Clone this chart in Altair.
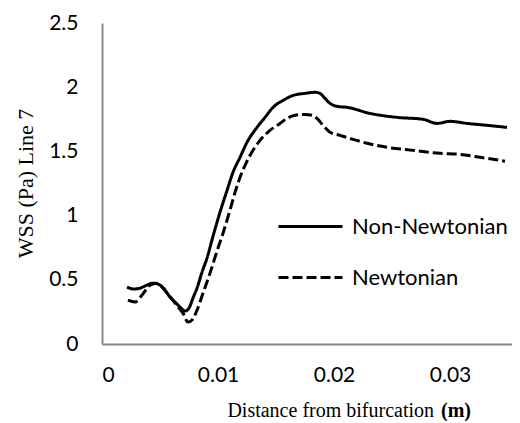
import altair as alt
import pandas as pd

series_names = ["Non-Newtonian", "Newtonian"]

nn_x = [0.00216, 0.00276, 0.00328, 0.00388, 0.0044, 0.005, 0.00543, 0.00586, 0.00638, 0.00672,
        0.00716, 0.0075, 0.00784, 0.00819, 0.00862, 0.00905, 0.00957, 0.01017, 0.01078, 0.01129,
        0.0119, 0.0125, 0.01336, 0.01405, 0.01474, 0.0156, 0.01647, 0.0175, 0.01836, 0.01879,
        0.01922, 0.01966, 0.02026, 0.02112, 0.0231, 0.02543, 0.02767, 0.02888, 0.03, 0.03147,
        0.0332, 0.03491]
nn_y = [0.443, 0.428, 0.435, 0.459, 0.474, 0.459, 0.42, 0.365, 0.319, 0.288,
        0.257, 0.28, 0.358, 0.435, 0.56, 0.669, 0.84, 1.026, 1.197, 1.337,
        1.454, 1.571, 1.687, 1.765, 1.843, 1.897, 1.936, 1.952, 1.96, 1.952,
        1.913, 1.874, 1.851, 1.843, 1.796, 1.765, 1.75, 1.718, 1.734, 1.718,
        1.703, 1.687]

n_x = [0.00224, 0.00284, 0.00345, 0.00414, 0.00474, 0.00526, 0.00569, 0.00612, 0.00655, 0.00698,
       0.00741, 0.00776, 0.00819, 0.00871, 0.00931, 0.00991, 0.01043, 0.01103, 0.01147, 0.0119,
       0.01241, 0.01302, 0.01362, 0.01448, 0.01534, 0.01595, 0.01664, 0.0175, 0.0181, 0.01853,
       0.01905, 0.01966, 0.02052, 0.02164, 0.02284, 0.02457, 0.02681, 0.02914, 0.03086, 0.03259,
       0.03371, 0.03474]
n_y = [0.342, 0.327, 0.381, 0.459, 0.474, 0.435, 0.389, 0.342, 0.288, 0.241,
       0.171, 0.187, 0.264, 0.397, 0.552, 0.723, 0.863, 1.042, 1.182, 1.299,
       1.407, 1.509, 1.586, 1.664, 1.718, 1.757, 1.781, 1.788, 1.781, 1.757,
       1.703, 1.649, 1.625, 1.594, 1.563, 1.532, 1.508, 1.485, 1.477, 1.454,
       1.439, 1.423]

x_ticks = [0, 0.01, 0.02, 0.03]
y_ticks = [0, 0.5, 1, 1.5, 2, 2.5]

df = pd.concat([
    pd.DataFrame({"x": nn_x, "y": nn_y, "series": series_names[0], "order": range(len(nn_x))}),
    pd.DataFrame({"x": n_x, "y": n_y, "series": series_names[1], "order": range(len(n_x))}),
])

lines = alt.Chart(df).mark_line(color="black", strokeWidth=3, interpolate="monotone").encode(
    x=alt.X("x:Q", scale=alt.Scale(domain=[0, 0.03534], nice=False, zero=False),
            axis=alt.Axis(values=x_ticks, title=None,
                          labelExpr="datum.value == 0 ? '0' : format(datum.value, '.2f')",
                          labelPadding=20)),
    y=alt.Y("y:Q", scale=alt.Scale(domain=[0, 2.5], nice=False),
            axis=alt.Axis(values=y_ticks, title="WSS (Pa) Line 7", labelPadding=24,
                          labelExpr="format(datum.value, '~g')",
                          titleFont="Liberation Serif", titleFontSize=22, titleFontWeight="normal",
                          titleX=-77, titleY=160, titleAngle=270, titleAlign="center",
                          titleBaseline="middle", titleColor="black")),
    strokeDash=alt.StrokeDash("series:N",
                              scale=alt.Scale(domain=series_names, range=[[1, 0], [10, 4]]),
                              legend=alt.Legend(title=None, orient="none", legendX=175, legendY=170,
                                                symbolType="stroke", symbolSize=4096,
                                                symbolStrokeWidth=3, symbolStrokeColor="black",
                                                labelFont="Lato", labelFontSize=22, labelColor="black",
                                                labelLimit=400, labelOffset=8, rowPadding=6,
                                                padding=0)),
    order="order:Q",
)

title_main = alt.Chart(pd.DataFrame({"t": ["Distance from bifurcation"]})).mark_text(
    font="Liberation Serif", fontSize=20, align="right", baseline="alphabetic", color="black"
).encode(text="t:N", x=alt.value(332), y=alt.value(394))

title_unit = alt.Chart(pd.DataFrame({"t": ["(m)"]})).mark_text(
    font="Liberation Serif", fontSize=20, fontWeight="bold", align="left", baseline="alphabetic",
    color="black"
).encode(text="t:N", x=alt.value(339), y=alt.value(394))

chart = alt.layer(lines, title_main, title_unit).properties(
    width=410, height=321,
    autosize=alt.AutoSizeParams(type="none"),
    padding={"left": 94, "top": 15, "right": 0, "bottom": 77},
).configure_view(stroke=None).configure_axis(
    grid=False, ticks=False, tickSize=0, domainColor="#8a8a8a", domainWidth=2,
    labelFont="Lato", labelFontSize=21, labelColor="black",
)

chart.save("out.html", embed_options={"renderer": "svg", "actions": False})
